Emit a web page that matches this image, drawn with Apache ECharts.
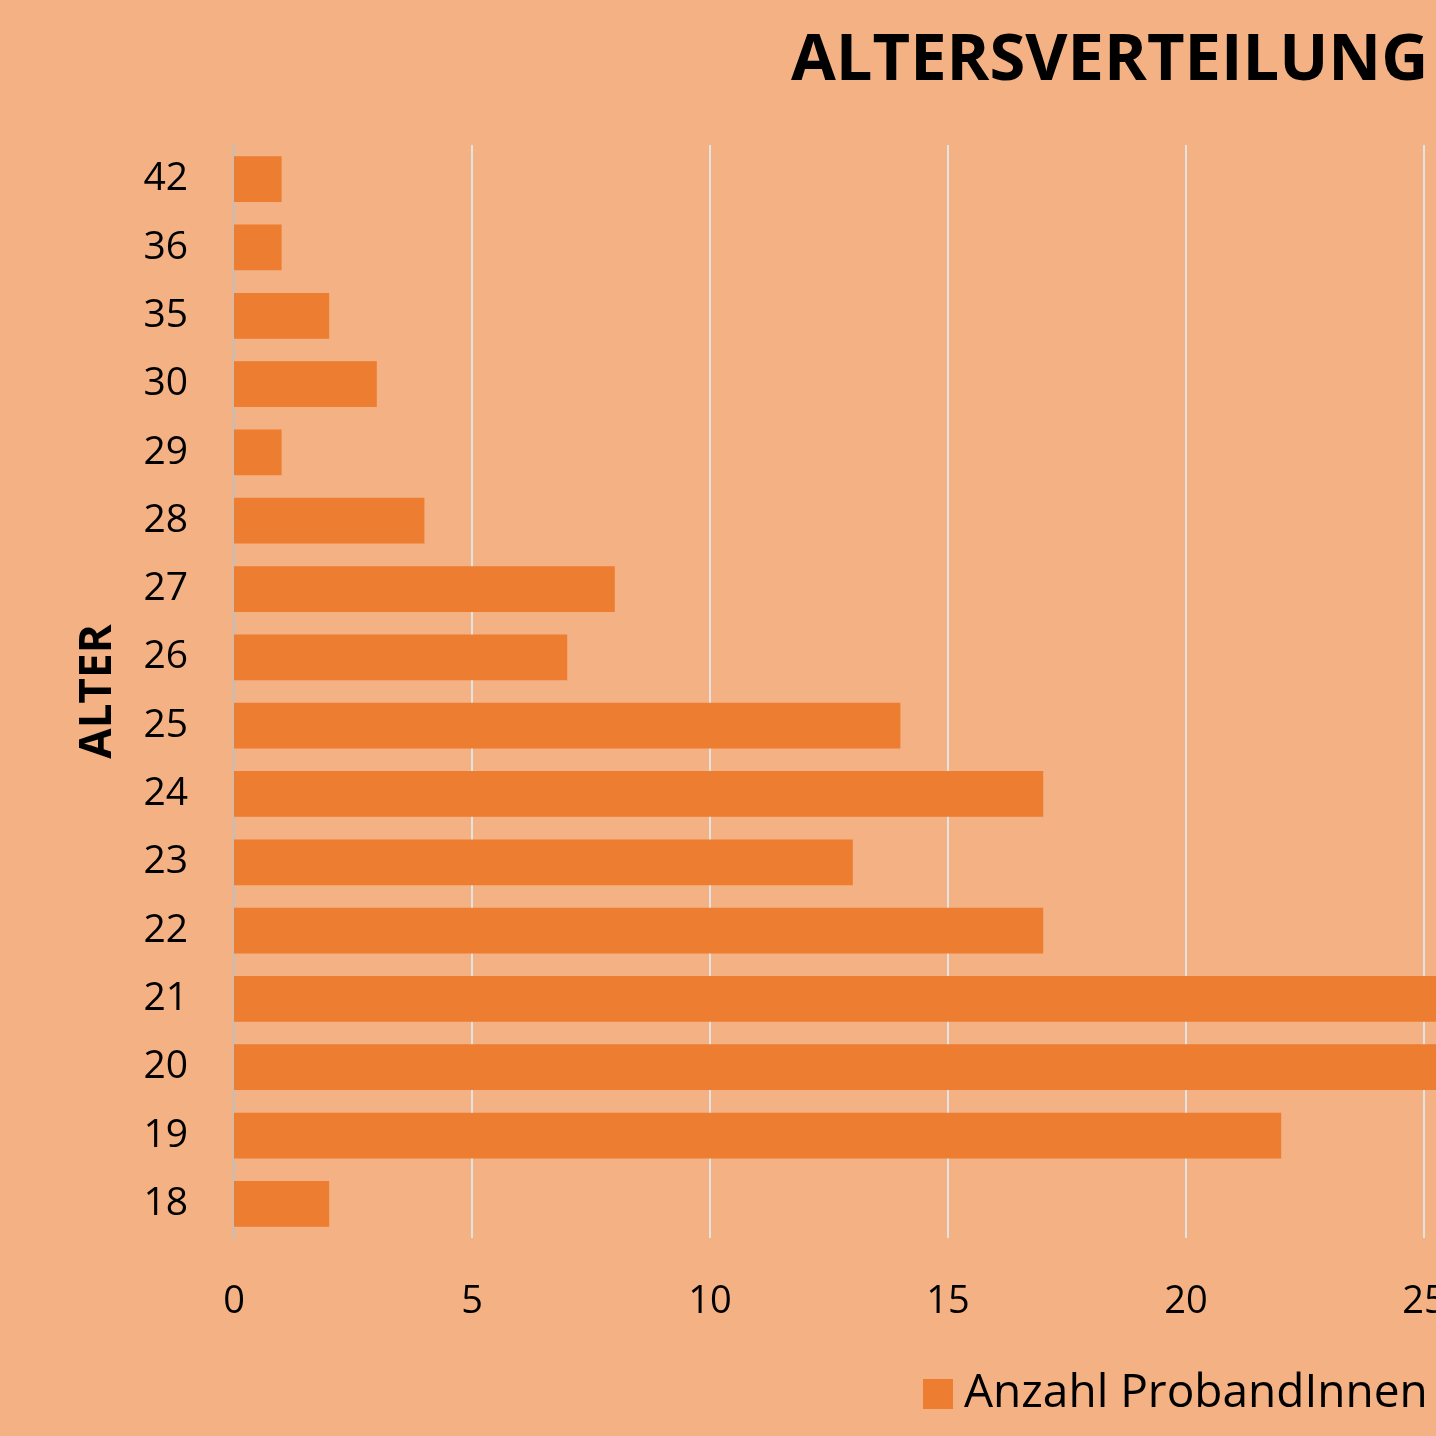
<!DOCTYPE html>
<html>
<head>
<meta charset="utf-8">
<script src="https://cdn.jsdelivr.net/npm/echarts@6/dist/echarts.min.js"></script>
<style>
html,body{margin:0;padding:0;overflow:hidden;width:1436px;height:1436px;background:#F4B183;}
#chart{position:absolute;left:0;top:0;width:2200px;height:1436px;}
</style>
</head>
<body>
<div id="chart"></div>
<script>
const categories = ['18','19','20','21','22','23','24','25','26','27','28','29','30','35','36','42'];
const values = [2,22,27,26,17,13,17,14,7,8,4,1,3,2,1,1];
const xTicks = [0,5,10,15,20,25,30];
const seriesName = 'Anzahl ProbandInnen';

const chart = echarts.init(document.getElementById('chart'), null, {renderer:'canvas'});
const font = '"Open Sans", "Noto Sans", sans-serif';
chart.setOption({
  backgroundColor:'#F4B183',
  animation:false,
  title:{
    text:'ALTERSVERTEILUNG',
    left:786, top:24,
    textStyle:{fontFamily:font, fontSize:65, fontWeight:'bold', color:'#000'}
  },
  legend:{
    left:918, top:1366,
    itemWidth:30, itemHeight:30, itemGap:10,
    icon:'rect',
    textStyle:{fontFamily:font, fontSize:46, color:'#000', padding:[0,0,0,6]},
    data:[seriesName]
  },
  grid:{left:234, top:145, right:538, bottom:198, containLabel:false},
  xAxis:{
    type:'value', min:xTicks[0], max:xTicks[xTicks.length-1], interval:5,
    axisLine:{show:false}, axisTick:{show:false},
    splitLine:{lineStyle:{color:'#E3E3E3', width:2}},
    axisLabel:{fontFamily:font, fontSize:38, color:'#000', margin:45}
  },
  yAxis:{
    type:'category', data:categories,
    name:'ALTER', nameLocation:'middle', nameGap:114, nameRotate:90,
    nameTextStyle:{fontFamily:font, fontSize:44, fontWeight:'bold', color:'#000'},
    axisLine:{show:true, lineStyle:{color:'#BFBFBF', width:2}},
    axisTick:{show:false},
    axisLabel:{fontFamily:font, fontSize:39, color:'#000', margin:46}
  },
  series:[{
    name:seriesName, type:'bar', data:values,
    barCategoryGap:'33%',
    itemStyle:{color:'#ED7D31'}
  }]
});
</script>
</body>
</html>
